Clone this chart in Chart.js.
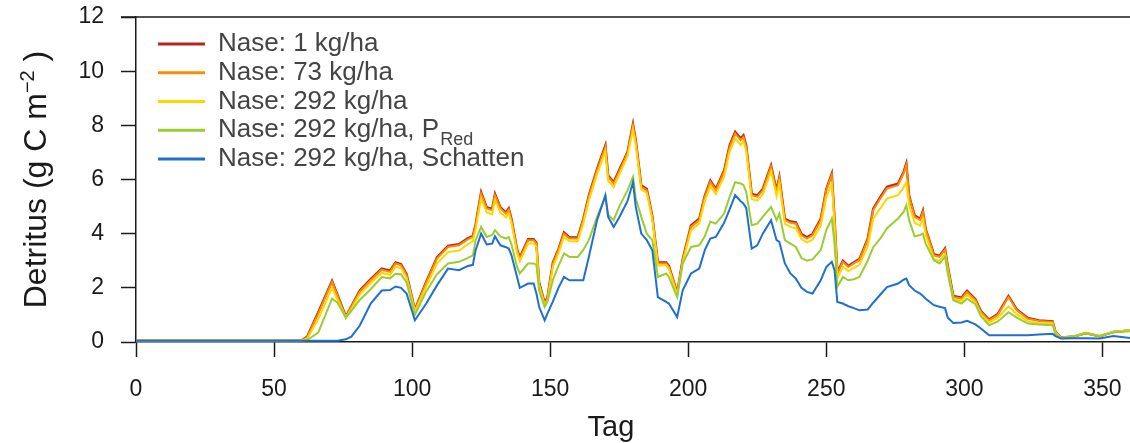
<!DOCTYPE html>
<html lang="de">
<head>
<meta charset="utf-8">
<title>Detritus</title>
<script src="https://cdn.jsdelivr.net/npm/chart.js@4.4.1/dist/chart.umd.min.js"></script>
<style>
  html, body { margin: 0; padding: 0; background: #fff; }
  #wrap { width: 1130px; height: 443px; }
</style>
</head>
<body>
<div id="wrap"><canvas id="detritusChart" width="1130" height="443"></canvas></div>
<script>
// ---- Data ----
const days = [
    0, 60, 62, 66, 71, 73, 76, 78, 81, 85,
    89, 92, 94, 96, 98, 101, 105, 109, 113, 117,
    120, 122, 123, 125, 127, 129, 130, 132, 134, 135,
    136, 138, 139, 142, 144, 145, 146, 148, 149, 151,
    153, 155, 157, 160, 162, 164, 167, 170, 171, 173,
    175, 178, 180, 181, 183, 185, 187, 189, 192, 193,
    196, 198, 201, 204, 206, 208, 210, 213, 215, 217,
    219, 220, 221, 223, 225, 227, 230, 232, 233, 235,
    237, 239, 241, 243, 245, 248, 250, 252, 253, 254,
    256, 258, 260, 262, 265, 267, 270, 272, 276, 278,
    279, 280, 282, 284, 285, 286, 289, 291, 293, 294,
    296, 299, 301, 304, 306, 309, 312, 316, 319, 323,
    327, 332, 333, 335, 340, 344, 349, 354, 360
];

const nase1 = [
    0.05, 0.06, 0.19, 1.1, 2.26, 1.74, 0.94, 1.32, 1.89, 2.32,
    2.71, 2.63, 2.94, 2.87, 2.5, 1.19, 2.2, 3.12, 3.55, 3.61,
    3.82, 3.92, 4.34, 5.53, 4.97, 4.91, 5.47, 4.97, 4.78, 4.93,
    4.54, 3.43, 3.12, 3.8, 3.8, 3.67, 2.2, 1.45, 1.64, 2.94,
    3.43, 4.05, 3.86, 3.86, 4.54, 5.41, 6.39, 7.26, 6.15, 5.9,
    6.35, 7.01, 8.05, 7.45, 5.78, 5.65, 4.65, 2.94, 2.94, 2.81,
    1.82, 3.06, 4.3, 4.55, 5.41, 5.96, 5.65, 6.33, 7.26, 7.76,
    7.51, 7.63, 7.26, 5.47, 5.41, 5.65, 6.52, 5.59, 6.09, 4.55,
    4.45, 4.42, 3.99, 3.87, 3.99, 4.55, 5.65, 6.22, 4.55, 2.57,
    3.0, 2.81, 2.94, 3.06, 3.81, 4.92, 5.42, 5.73, 5.85, 6.28,
    6.59, 5.41, 4.67, 4.55, 4.85, 4.17, 3.24, 3.18, 3.45, 2.81,
    1.7, 1.64, 1.89, 1.58, 1.14, 0.83, 1.02, 1.7, 1.2, 0.89,
    0.8, 0.76, 0.38, 0.16, 0.21, 0.33, 0.21, 0.37, 0.43
];

const nase73 = [
    0.05, 0.06, 0.17, 1.05, 2.22, 1.7, 0.92, 1.29, 1.85, 2.28,
    2.67, 2.59, 2.9, 2.83, 2.46, 1.17, 2.16, 3.08, 3.51, 3.57,
    3.78, 3.88, 4.3, 5.48, 4.93, 4.87, 5.42, 4.93, 4.74, 4.89,
    4.5, 3.39, 3.08, 3.76, 3.76, 3.63, 2.16, 1.42, 1.6, 2.9,
    3.39, 4.0, 3.82, 3.82, 4.5, 5.36, 6.34, 7.2, 6.1, 5.85,
    6.3, 6.96, 8.0, 7.4, 5.73, 5.6, 4.6, 2.9, 2.9, 2.77,
    1.79, 3.02, 4.25, 4.5, 5.36, 5.91, 5.6, 6.28, 7.2, 7.7,
    7.45, 7.57, 7.2, 5.42, 5.36, 5.6, 6.47, 5.54, 6.04, 4.5,
    4.4, 4.37, 3.94, 3.82, 3.94, 4.5, 5.6, 6.16, 4.5, 2.53,
    2.96, 2.77, 2.9, 3.02, 3.76, 4.87, 5.36, 5.67, 5.79, 6.22,
    6.53, 5.36, 4.62, 4.5, 4.8, 4.13, 3.2, 3.14, 3.41, 2.77,
    1.66, 1.6, 1.85, 1.55, 1.11, 0.8, 0.99, 1.66, 1.17, 0.86,
    0.78, 0.74, 0.37, 0.16, 0.21, 0.33, 0.21, 0.37, 0.43
];

const nase292 = [
    0.05, 0.06, 0.12, 0.85, 2.0, 1.55, 0.9, 1.22, 1.75, 2.18,
    2.55, 2.48, 2.78, 2.72, 2.36, 1.12, 2.02, 2.9, 3.32, 3.38,
    3.6, 3.72, 4.15, 5.3, 4.78, 4.72, 5.25, 4.78, 4.6, 4.75,
    4.38, 3.28, 2.98, 3.64, 3.64, 3.52, 2.08, 1.35, 1.52, 2.78,
    3.26, 3.88, 3.72, 3.72, 4.38, 5.22, 6.2, 7.05, 5.95, 5.72,
    6.18, 6.85, 7.85, 7.28, 5.63, 5.5, 4.52, 2.82, 2.84, 2.7,
    1.74, 2.94, 4.12, 4.38, 5.2, 5.75, 5.46, 6.1, 7.02, 7.52,
    7.28, 7.4, 7.05, 5.28, 5.22, 5.45, 6.3, 5.38, 5.86, 4.36,
    4.25, 4.2, 3.8, 3.68, 3.78, 4.3, 5.35, 5.85, 4.3, 2.35,
    2.78, 2.62, 2.74, 2.85, 3.52, 4.55, 5.0, 5.3, 5.42, 5.7,
    5.91, 5.05, 4.4, 4.3, 4.55, 3.95, 3.05, 3.0, 3.25, 2.65,
    1.58, 1.52, 1.74, 1.46, 1.02, 0.72, 0.88, 1.32, 1.02, 0.76,
    0.7, 0.68, 0.34, 0.15, 0.22, 0.33, 0.23, 0.38, 0.43
];

const nase292PRed = [
    0.05, 0.05, 0.07, 0.35, 1.6, 1.45, 0.9, 1.15, 1.55, 1.95,
    2.4, 2.35, 2.52, 2.5, 2.2, 1.0, 1.85, 2.5, 2.9, 2.96,
    3.1, 3.2, 3.76, 4.25, 3.88, 3.95, 4.13, 3.9, 3.82, 3.88,
    3.6, 2.77, 2.53, 2.9, 2.9, 2.85, 1.9, 1.29, 1.48, 2.3,
    2.8, 3.27, 3.14, 3.14, 3.4, 3.76, 4.62, 5.36, 4.7, 4.5,
    5.0, 5.6, 6.1, 5.3, 4.62, 4.0, 3.76, 2.4, 2.53, 2.4,
    1.66, 2.9, 3.51, 3.57, 3.9, 4.45, 4.37, 4.74, 5.36, 5.9,
    5.85, 5.8, 5.54, 4.31, 4.37, 4.62, 4.99, 4.5, 4.74, 3.76,
    3.63, 3.51, 3.1, 3.0, 3.05, 3.4, 4.13, 4.56, 3.63, 2.03,
    2.4, 2.28, 2.32, 2.4, 3.0, 3.5, 3.88, 4.2, 4.56, 4.8,
    5.05, 4.5, 3.9, 3.95, 4.0, 3.63, 3.02, 2.9, 3.14, 2.53,
    1.54, 1.42, 1.6, 1.4, 0.95, 0.62, 0.75, 1.1, 0.9, 0.68,
    0.65, 0.62, 0.3, 0.14, 0.22, 0.31, 0.22, 0.36, 0.4
];

const nase292Schatten = [
    0.05, 0.05, 0.05, 0.05, 0.05, 0.05, 0.1, 0.2, 0.6, 1.42,
    1.9, 1.92, 2.05, 2.0, 1.79, 0.8, 1.4, 2.09, 2.71, 2.65,
    2.8, 2.85, 3.39, 4.0, 3.6, 3.63, 3.9, 3.57, 3.5, 3.45,
    3.2, 2.4, 2.0, 2.16, 2.16, 1.8, 1.3, 0.8, 1.05, 1.5,
    2.0, 2.4, 2.28, 2.28, 2.28, 3.14, 4.5, 5.42, 4.62, 4.25,
    4.6, 5.2, 5.9, 4.99, 4.0, 3.76, 3.39, 1.66, 1.48, 1.42,
    0.92, 1.91, 2.53, 2.71, 3.39, 3.82, 3.88, 4.4, 4.9, 5.42,
    5.2, 5.11, 4.95, 3.45, 3.57, 4.0, 4.5, 3.76, 3.7, 2.9,
    2.53, 2.34, 2.0, 1.85, 1.79, 2.28, 2.77, 2.96, 2.65, 1.48,
    1.42, 1.32, 1.25, 1.17, 1.2, 1.45, 1.8, 2.03, 2.16, 2.3,
    2.34, 2.1, 1.9, 1.79, 1.7, 1.6, 1.36, 1.3, 1.25, 0.9,
    0.7, 0.72, 0.78, 0.65, 0.5, 0.25, 0.25, 0.25, 0.25, 0.25,
    0.28, 0.3, 0.22, 0.13, 0.14, 0.14, 0.13, 0.22, 0.15
];

const legendText = ['Nase: 1 kg/ha', 'Nase: 73 kg/ha', 'Nase: 292 kg/ha', 'Nase: 292 kg/ha, P', 'Nase: 292 kg/ha, Schatten'];
const legendSub = ['', '', '', 'Red', ''];
const lineColors = ['#b3261e', '#ff8c00', '#ffd700', '#9acd32', '#1f6fd0'];

const xTickValues = [0, 50, 100, 150, 200, 250, 300, 350];
const yTickValues = [0, 2, 4, 6, 8, 10, 12];
const xTitle = 'Tag';
const yTitleParts = ['Detritus (g C m', '\u22122', ' )'];

const FONT = '"Liberation Sans", Arial, Helvetica, sans-serif';
const INK = '#1a1a1a';

// ---- Build datasets ----
const allSeries = [nase1, nase73, nase292, nase292PRed, nase292Schatten];
const datasets = allSeries.map((vals, i) => ({
    label: legendText[i] + legendSub[i],
    data: vals.map((v, k) => ({ x: days[k], y: v })),
    borderColor: lineColors[i],
    borderWidth: i === 0 ? 2.4 : 2,
    pointRadius: 0,
    tension: 0,
    order: allSeries.length - i   // blue ends up on top, red at the bottom
}));

// ---- Titles, legend and top frame line drawn on the canvas ----
const annotate = {
    id: 'annotate',
    afterDraw(chart) {
        const ctx = chart.ctx;
        const area = chart.chartArea;
        ctx.save();

        // top line of the frame (R style box top)
        ctx.strokeStyle = INK;
        ctx.lineWidth = 1.5;
        ctx.beginPath();
        ctx.moveTo(area.left - 15, area.top);
        ctx.lineTo(area.right, area.top);
        ctx.stroke();

        // legend
        ctx.textBaseline = 'middle';
        ctx.textAlign = 'left';
        legendText.forEach((txt, i) => {
            const y = 44 + i * 28.75;
            ctx.strokeStyle = lineColors[i];
            ctx.lineWidth = 3;
            ctx.beginPath();
            ctx.moveTo(158, y);
            ctx.lineTo(205, y);
            ctx.stroke();

            ctx.fillStyle = '#444';
            ctx.font = '26px ' + FONT;
            ctx.fillText(txt, 218, y);
            if (legendSub[i]) {
                const w = ctx.measureText(txt).width;
                ctx.font = '18px ' + FONT;
                ctx.fillText(legendSub[i], 218 + w + 1, y + 10);
            }
        });

        // x axis title
        ctx.fillStyle = INK;
        ctx.font = '29px ' + FONT;
        ctx.textAlign = 'center';
        ctx.textBaseline = 'alphabetic';
        ctx.fillText(xTitle, 611, 436);

        // y axis title with superscript, rotated
        const sizes = [32, 20, 32];
        const lift = [0, -12, 0];
        let total = 0;
        const widths = yTitleParts.map((p, i) => {
            ctx.font = sizes[i] + 'px ' + FONT;
            const w = ctx.measureText(p).width;
            total += w;
            return w;
        });
        ctx.translate(46, (area.top + area.bottom) / 2);
        ctx.rotate(-Math.PI / 2);
        ctx.textAlign = 'left';
        let x = -total / 2;
        yTitleParts.forEach((p, i) => {
            ctx.font = sizes[i] + 'px ' + FONT;
            ctx.fillText(p, x, lift[i]);
            x += widths[i];
        });

        ctx.restore();
    }
};

// ---- Chart ----
Chart.defaults.font.family = FONT;
Chart.defaults.color = INK;

const ctx = document.getElementById('detritusChart').getContext('2d');
window.detritusChart = new Chart(ctx, {
    type: 'line',
    data: { datasets },
    options: {
        responsive: false,
        animation: false,
        devicePixelRatio: 1,
        layout: { padding: { top: 17, right: 0, left: 0, bottom: 0 } },
        plugins: { legend: { display: false }, tooltip: { enabled: false } },
        scales: {
            x: {
                type: 'linear',
                min: 0,
                max: 360,
                afterBuildTicks: axis => { axis.ticks = xTickValues.map(v => ({ value: v })); },
                afterFit: axis => {
                    axis.height = 101;
                    axis.paddingLeft = 0;
                    axis.paddingRight = 0;
                },
                ticks: { font: { size: 23 }, color: INK, padding: 19, maxRotation: 0, includeBounds: false },
                grid: { drawOnChartArea: false, drawTicks: true, tickLength: 15, tickColor: INK, tickWidth: 1.5 },
                border: { display: true, color: INK, width: 1.5 }
            },
            y: {
                min: 0,
                max: 12,
                afterBuildTicks: axis => { axis.ticks = yTickValues.map(v => ({ value: v })); },
                afterFit: axis => {
                    axis.width = 136;
                    axis.paddingTop = 0;
                    axis.paddingBottom = 0;
                },
                ticks: { font: { size: 23 }, color: INK, padding: 17 },
                grid: { drawOnChartArea: false, drawTicks: true, tickLength: 15, tickColor: INK, tickWidth: 1.5 },
                border: { display: true, color: INK, width: 1.5 }
            }
        }
    },
    plugins: [annotate]
});
</script>
</body>
</html>
